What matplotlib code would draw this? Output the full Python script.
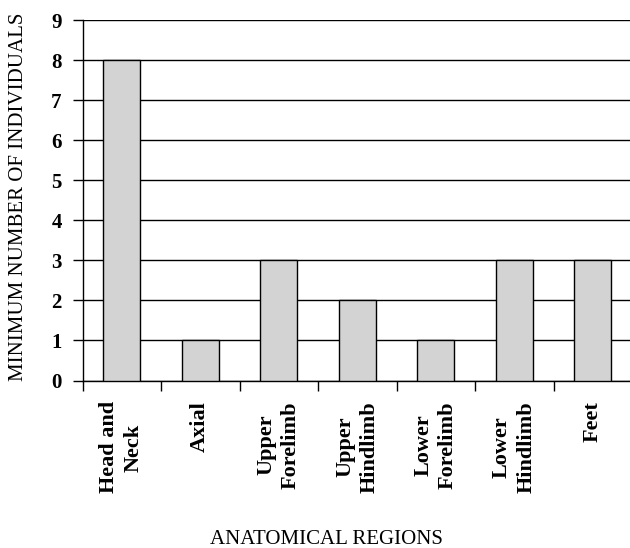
import matplotlib
matplotlib.use("Agg")
import matplotlib.pyplot as plt
import numpy as np

categories = ["Head and\nNeck", "Axial", "Upper\nForelimb", "Upper\nHindlimb",
              "Lower\nForelimb", "Lower\nHindlimb", "Feet"]
values = [8, 1, 3, 2, 1, 3, 3]
yticks = list(range(0, 10))

plt.rcParams['font.family'] = ['Liberation Serif', 'DejaVu Serif']

fig = plt.figure(figsize=(6.3, 5.48), dpi=100)
W, H = 630, 548
ax = fig.add_axes([82.5 / W, (H - 380.5) / H, 549.5 / W, 360.5 / H])

x = np.arange(len(categories))
ax.bar(x, values, width=0.47, color="#D3D3D3", edgecolor="black", linewidth=1.0, zorder=3)

ax.set_xlim(-0.5, len(categories) - 0.5)
ax.set_ylim(0, 9)
ax.set_yticks(yticks)
ax.set_yticklabels([str(v) for v in yticks], fontsize=15, fontweight="bold")
ax.yaxis.grid(True, color="black", linewidth=1.0, zorder=0)
ax.set_axisbelow(True)

ax.set_xticks(x)
ax.set_xticklabels(categories, rotation=90, fontsize=16, fontweight="bold",
                   ha="center", va="top", multialignment="center", linespacing=1.3)
ax.set_xticks(np.arange(-0.5, len(categories), 1), minor=True)
ax.tick_params(axis="x", which="major", length=0, pad=15)
ax.tick_params(axis="x", which="minor", length=7, width=1, direction="out", color="black")
ax.tick_params(axis="y", length=7, width=1, direction="out", pad=8, color="black")

for s in ["top", "right"]:
    ax.spines[s].set_visible(False)
for s in ["left", "bottom"]:
    ax.spines[s].set_linewidth(1.0)
    ax.spines[s].set_color("black")

ax.set_ylabel("MINIMUM NUMBER OF INDIVIDUALS", fontsize=15)
ax.yaxis.set_label_coords((28 - 82.5) / 549.5, 0.509)
ax.set_xlabel("ANATOMICAL REGIONS", fontsize=15)
ax.xaxis.set_label_coords((326 - 82.5) / 549.5, (380.5 - 530) / 360.5)

fig.savefig("out.png", dpi=100)
